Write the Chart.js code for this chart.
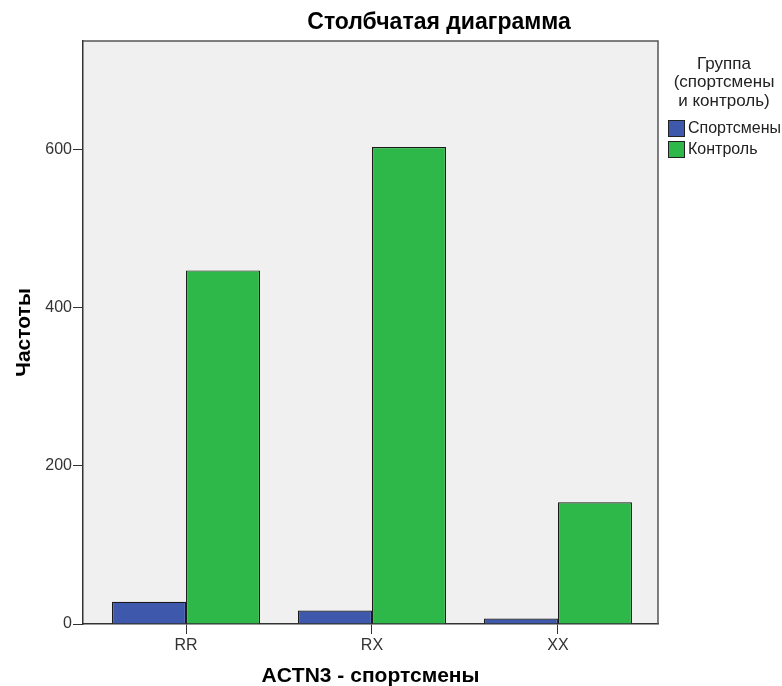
<!DOCTYPE html>
<html>
<head>
<meta charset="utf-8">
<script src="https://cdn.jsdelivr.net/npm/chart.js@4"></script>
<style>
  html, body { margin: 0; padding: 0; background: #fff; }
  #wrap { width: 782px; height: 686px; }
</style>
</head>
<body>
<div id="wrap"><canvas id="chart" width="782" height="686"></canvas></div>
<script>
const categories = ["RR", "RX", "XX"]
const athletes = [28, 17, 7]
const control = [447, 603, 154]
const yTicks = [0, 200, 400, 600]
const seriesNames = ["Спортсмены", "Контроль"]
const legendTitle = ["Группа", "(спортсмены", "и контроль)"]
const chartTitle = "Столбчатая диаграмма"

const FONT = "'Liberation Sans', Arial, sans-serif"

function points(values){
    return values.map((v, i) => ({x: i, y: v}))
}

// plot background + frame, title and legend drawn on the canvas
const decor = {
    id: "decor",
    beforeDraw(chart){
        const {ctx, chartArea: a} = chart
        ctx.save()
        ctx.fillStyle = "#f0f0f0"
        ctx.fillRect(a.left, a.top, a.right - a.left, a.bottom - a.top)
        ctx.restore()
    },
    afterDraw(chart){
        const {ctx, chartArea: a} = chart
        ctx.save()
        ctx.strokeStyle = "#555"
        ctx.lineWidth = 1.5
        ctx.beginPath()
        ctx.moveTo(a.left, a.top)
        ctx.lineTo(a.right, a.top)
        ctx.lineTo(a.right, a.bottom)
        ctx.stroke()

        ctx.fillStyle = "#000"
        ctx.textAlign = "center"
        ctx.textBaseline = "middle"
        ctx.font = "bold 23px " + FONT
        ctx.fillText(chartTitle, 439, 23)

        ctx.fillStyle = "#222"
        ctx.font = "17px " + FONT
        legendTitle.forEach((t, i) => ctx.fillText(t, 724, 64 + i * 18.5))

        ctx.textAlign = "left"
        ctx.font = "16px " + FONT
        chart.data.datasets.forEach((ds, i) => {
            const y = 120 + i * 21
            ctx.fillStyle = ds.backgroundColor
            ctx.fillRect(668, y, 16, 16)
            ctx.strokeStyle = "#222"
            ctx.lineWidth = 1
            ctx.strokeRect(668.5, y + 0.5, 16, 16)
            ctx.fillStyle = "#222"
            ctx.fillText(ds.label, 688, y + 9)
        })
        ctx.restore()
    }
}

new Chart(document.getElementById("chart"), {
    type: "bar",
    data: {
        datasets: [{
            label: seriesNames[0],
            data: points(athletes),
            backgroundColor: "#3e58ac",
            borderColor: "#1a1a1a",
            borderWidth: 1.2
        }, {
            label: seriesNames[1],
            data: points(control),
            backgroundColor: "#2eb84a",
            borderColor: "#1a1a1a",
            borderWidth: 1.2
        }]
    },
    options: {
        responsive: false,
        animation: false,
        categoryPercentage: 0.796,
        barPercentage: 1,
        layout: { padding: { top: 41, right: 124, left: 0, bottom: 0 } },
        plugins: {
            legend: { display: false },
            title: { display: false },
            tooltip: { enabled: false }
        },
        scales: {
            x: {
                type: "linear",
                offset: false,
                min: -0.554,
                max: 2.538,
                afterFit: s => { s.height = 62 },
                afterBuildTicks: s => { s.ticks = categories.map((c, i) => ({value: i})) },
                ticks: {
                    callback: v => categories[v],
                    font: { family: FONT, size: 16 },
                    color: "#333",
                    padding: 2,
                    maxRotation: 0
                },
                grid: { offset: false, drawOnChartArea: false, drawTicks: true, tickLength: 10, color: "#333" },
                border: { display: true, color: "#333", width: 1.5 },
                title: {
                    display: true,
                    text: "ACTN3 - спортсмены",
                    font: { family: FONT, size: 21, weight: "bold" },
                    color: "#000",
                    padding: { top: 0, bottom: -3 }
                }
            },
            y: {
                min: 0,
                max: 737,
                afterFit: s => { s.width = 83 },
                afterBuildTicks: s => { s.ticks = yTicks.map(v => ({value: v})) },
                ticks: {
                    font: { family: FONT, size: 16 },
                    color: "#333",
                    padding: 1
                },
                grid: { drawOnChartArea: false, drawTicks: true, tickLength: 10, color: "#333" },
                border: { display: true, color: "#333", width: 1.5 },
                title: {
                    display: true,
                    text: "Частоты",
                    font: { family: FONT, size: 21, weight: "bold" },
                    color: "#000",
                    padding: { top: 12, bottom: 0 }
                }
            }
        }
    },
    plugins: [decor]
})
</script>
</body>
</html>
